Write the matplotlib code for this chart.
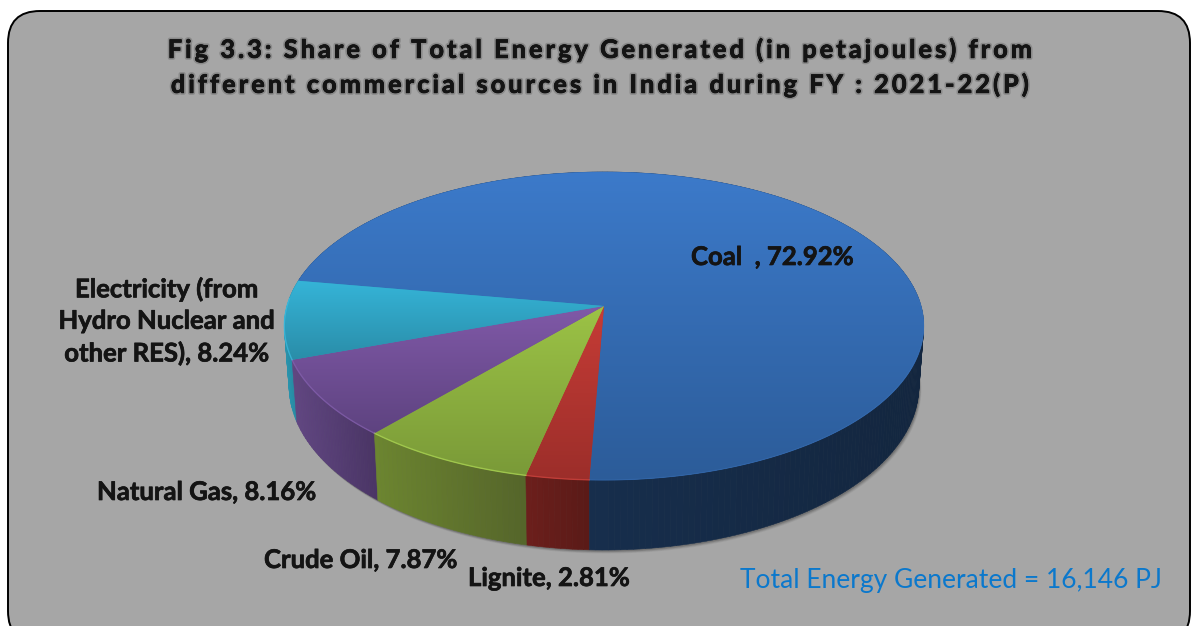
#!/usr/bin/env python3
"""Share of total energy generated by commercial source, as a tilted 3D pie."""
import matplotlib
matplotlib.use('Agg')
import matplotlib.pyplot as plt
import matplotlib.patheffects as pe
import numpy as np
from matplotlib.colors import to_rgb
from matplotlib.patches import FancyBboxPatch, Polygon

SOURCES = ['Coal', 'Lignite', 'Crude Oil', 'Natural Gas', 'Electricity']
SHARES = [72.92, 2.81, 7.87, 8.16, 8.24]
TITLE_LINES = ['Fig 3.3: Share of Total Energy Generated (in petajoules) from',
               'different commercial sources in India during FY : 2021-22(P)']
TOTAL_NOTE = 'Total Energy Generated = 16,146 PJ'

TOP_COLORS = [('#3c7aca', '#2c5c99'), ('#c63c36', '#9c2e2a'), ('#9cc346', '#7a9a38'),
              ('#8059a8', '#5e4380'), ('#35b4d8', '#2a8da8')]
WALL_COLORS = [('#1a3558', '#13263f'), ('#6c1f1c', '#5a1a17'), ('#6c8530', '#55652a'),
               ('#614682', '#4a3565'), ('#2a94ad', '#2486a0')]
RIM_ALPHA = [0.15, 0.6, 0.75, 0.6, 0.6]

W, H = 1192, 626
CX, CY = 604, 306
R, A, K = 317, 151.4, 0.13
START_ANGLE = 170.2


def project_top(deg):
    t = np.radians(deg)
    c, s = np.cos(t), np.sin(t)
    return CX + R * c / (1 + K * s), CY - A * s / (1 + K * s)


def project_bottom(deg):
    x, y = project_top(deg)
    return CX + (x - CX) * 0.985, 386 + (y - 326) * 164 / 154


def mix(pair, t):
    a, b = np.array(to_rgb(pair[0])), np.array(to_rgb(pair[1]))
    return tuple(a + (b - a) * t)


def title_spaced(line):
    return '\u200a\u200a'.join(line)


def main():
    plt.rcParams['font.family'] = ['Lato', 'DejaVu Sans']
    fig = plt.figure(figsize=(W / 100, H / 100), dpi=100, facecolor='white')
    ax = fig.add_axes([0, 0, 1, 1])
    ax.set_xlim(0, W)
    ax.set_ylim(H, 0)
    ax.axis('off')

    ax.add_patch(FancyBboxPatch((8, 11), 1182, 632, boxstyle='round,pad=0,rounding_size=32',
                                fc='#a6a6a6', ec='black', lw=1.4, zorder=0))

    # soft shadow under the disc
    ring = np.linspace(0, 360, 361)
    bx, by = project_bottom(ring)
    for off, alpha in [(5, 0.05), (4, 0.07), (3, 0.09), (2, 0.12)]:
        ax.fill(bx + off * 0.5, by + off * 0.7, color='black', alpha=alpha, lw=0, zorder=1)

    sweeps = np.array(SHARES) * 3.6
    ends = START_ANGLE - np.cumsum(sweeps)
    starts = ends + sweeps

    # side walls, back to front
    steps = []
    for i, (a0, a1) in enumerate(zip(starts, ends)):
        edges = np.linspace(a0, a1, int(abs(a1 - a0)) + 2)
        shown = edges[np.sin(np.radians(edges)) < 0.35]
        if len(shown) < 2:
            shown = edges
        xmin, xmax = project_top(shown)[0].min(), project_top(shown)[0].max()
        for u, v in zip(edges[:-1], edges[1:]):
            mid = (u + v) / 2
            t = np.clip((project_top(mid)[0] - xmin) / max(xmax - xmin, 1), 0, 1)
            steps.append((np.sin(np.radians(mid)), u, v, mix(WALL_COLORS[i], t)))
    steps.sort(key=lambda row: -row[0])
    for _, u, v, col in steps:
        tx, ty = project_top(np.array([u, v]))
        dx, dy = project_bottom(np.array([v, u]))
        ax.fill(np.r_[tx, dx], np.r_[ty, dy], fc=col, ec=col, lw=0.4, zorder=2)

    # top face
    for i, (a0, a1) in enumerate(zip(starts, ends)):
        arc = np.linspace(a0, a1, int(abs(a1 - a0)) * 2 + 2)
        ax_, ay_ = project_top(arc)
        px, py = np.r_[CX, ax_], np.r_[CY, ay_]
        mid_col = mix(TOP_COLORS[i], 0.5)
        poly = Polygon(np.c_[px, py], closed=True, fc=mid_col, ec=mid_col, lw=0.5, zorder=3)
        ax.add_patch(poly)
        grad = np.array([mix(TOP_COLORS[i], t) for t in np.linspace(0, 1, 128)])[:, None, :]
        im = ax.imshow(grad, extent=[px.min(), px.max(), py.max(), py.min()], aspect='auto',
                       interpolation='bilinear', zorder=4)
        im.set_clip_path(poly)
        front = np.sin(np.radians(arc)) < 0.05
        light = tuple(min(1, c * 1.18 + 0.04) for c in mix(TOP_COLORS[i], 0.6))
        ax.plot(ax_[front], ay_[front], color=light, lw=1.0, alpha=RIM_ALPHA[i], zorder=5)
    ax.set_xlim(0, W)
    ax.set_ylim(H, 0)

    # title with a soft drop shadow
    shadow = [pe.withStroke(linewidth=3, foreground='#707070', alpha=0.5),
              pe.withStroke(linewidth=0.6, foreground='#141414')]
    for line, y in zip(TITLE_LINES, [50, 85]):
        ax.text(603, y, title_spaced(line), ha='center', va='center', fontsize=18.1,
                fontweight='bold', color='#141414', path_effects=shadow, zorder=8)

    heavier = [pe.withStroke(linewidth=0.5, foreground='#141414')]
    label_kw = dict(fontsize=18.5, fontweight='bold', color='#141414', va='center',
                    path_effects=heavier, zorder=8)
    ax.text(691, 257, f'{SOURCES[0]}  , {SHARES[0]:.2f}%', ha='left', **label_kw)
    ax.text(167, 321, f'{SOURCES[4]} (from\nHydro Nuclear and\nother RES), {SHARES[4]:.2f}%',
            ha='center', linespacing=1.36, **label_kw)
    ax.text(97, 492, f'{SOURCES[3]}, {SHARES[3]:.2f}%', ha='left', **label_kw)
    ax.text(264, 560, f'{SOURCES[2]}, {SHARES[2]:.2f}%', ha='left', **label_kw)
    ax.text(468, 578, f'{SOURCES[1]}, {SHARES[1]:.2f}%', ha='left', **label_kw)
    ax.text(740, 580.5, TOTAL_NOTE, ha='left', va='center', fontsize=19, color='#0b78cc', zorder=8)

    fig.savefig('out.png', dpi=100, facecolor='white')
    plt.close(fig)


if __name__ == '__main__':
    main()
